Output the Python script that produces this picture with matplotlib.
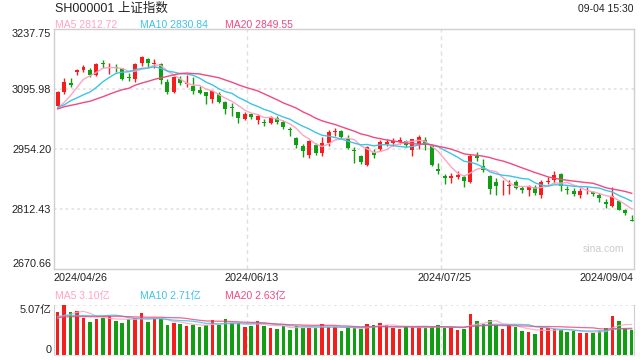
import numpy as np
import matplotlib
matplotlib.use('Agg')
import matplotlib.pyplot as plt

plt.rcParams['font.family'] = ['Liberation Sans', 'Noto Sans CJK SC']

# daily K line, SH000001, 2024/04/26 - 2024/09/04 (90 trading days)
opens = [3055, 3090, 3110, 3136, 3141, 3142, 3128, 3157, 3145, 3147,
         3145, 3125, 3120, 3157, 3166, 3156, 3155, 3112, 3090, 3120,
         3107, 3104, 3093, 3088, 3072, 3085, 3066, 3052, 3041, 3026,
         3036, 3022, 3018, 3016, 3028, 3017, 3001, 2981, 2962, 2941,
         2964, 2945, 2968, 2994, 2996, 2978, 2953, 2938, 2916, 2946,
         2955, 2967, 2968, 2971, 2973, 2953, 2966, 2976, 2961, 2908,
         2890, 2886, 2888, 2887, 2876, 2937, 2913, 2891, 2877, 2868,
         2866, 2877, 2861, 2858, 2865, 2846, 2876, 2880, 2895, 2860,
         2855, 2846, 2854, 2853, 2846, 2830, 2820, 2831, 2810, 2786]
highs = [3092, 3123, 3121, 3144, 3153, 3145, 3158, 3164, 3157, 3156,
         3146, 3133, 3158, 3174.27, 3170, 3167, 3157, 3120, 3126, 3127,
         3129, 3124, 3102, 3090, 3093, 3088, 3068, 3062, 3042, 3042,
         3040, 3036, 3025, 3032, 3031, 3023, 3007, 2983, 2966, 2975,
         2968, 2982, 2998, 3005, 3000, 2988, 2960, 2940, 2962, 2955,
         2975, 2978, 2980, 2982, 2976, 2979, 2988, 2983, 2963, 2920,
         2895, 2897, 2903, 2892, 2942, 2946, 2930, 2893, 2885, 2882,
         2881, 2880, 2866, 2870, 2868, 2880, 2888, 2903, 2897, 2867,
         2862, 2862, 2864, 2856, 2851, 2836, 2865, 2833, 2812, 2799]
lows = [3052, 3083, 3100, 3128, 3137, 3124, 3126, 3146, 3132, 3135,
        3118, 3115, 3112, 3150, 3148, 3146, 3107, 3085, 3087, 3106,
        3100, 3085, 3083, 3060, 3062, 3062, 3038, 3031, 3016, 3022,
        3024, 3013, 3009, 3014, 3013, 3001, 2985, 2957, 2935, 2933,
        2940, 2937, 2962, 2985, 2978, 2955, 2920, 2918, 2913, 2933,
        2950, 2962, 2962, 2966, 2958, 2937, 2955, 2952, 2913, 2896,
        2872, 2873, 2884, 2864, 2874, 2925, 2900, 2848, 2845, 2846,
        2849, 2860, 2850, 2843, 2846, 2838, 2871, 2874, 2854, 2848,
        2844, 2838, 2849, 2843, 2829, 2814, 2818, 2810, 2799, 2783]
closes = [3088.64, 3113.04, 3104.82, 3140.72, 3147.74, 3128.48, 3154.32, 3154.55, 3148.02, 3145.77,
          3119.90, 3122.40, 3154.03, 3171.15, 3157.97, 3158.54, 3116.39, 3088.87, 3124.04, 3109.57,
          3111.02, 3091.20, 3086.81, 3078.49, 3091.20, 3065.40, 3048.79, 3051.28, 3028.05, 3037.47,
          3028.92, 3032.63, 3015.89, 3030.25, 3018.05, 3005.44, 2998.14, 2963.10, 2950.00, 2972.53,
          2945.85, 2967.40, 2994.73, 2997.01, 2982.38, 2957.57, 2949.93, 2922.45, 2959.37, 2939.36,
          2970.39, 2971.30, 2974.01, 2976.30, 2962.85, 2977.13, 2982.31, 2964.22, 2915.37, 2901.95,
          2886.43, 2890.90, 2891.85, 2879.30, 2938.75, 2932.39, 2905.34, 2860.70, 2867.28, 2869.90,
          2869.83, 2862.19, 2858.20, 2867.95, 2850.65, 2877.36, 2879.43, 2893.67, 2866.66, 2856.58,
          2848.77, 2854.37, 2855.52, 2848.73, 2837.43, 2823.11, 2842.21, 2811.04, 2802.98, 2784.28]
# volume, 亿
vols = [4.39, 5.07, 4.39, 4.50, 3.79, 3.38, 3.68, 3.79, 3.95, 3.48,
        3.28, 3.62, 3.72, 4.29, 3.38, 3.62, 3.62, 3.08, 3.28, 3.14,
        2.97, 3.08, 2.81, 3.08, 3.55, 3.01, 3.68, 3.21, 3.21, 2.87,
        2.97, 3.48, 2.97, 2.77, 2.67, 2.94, 2.57, 2.94, 2.77, 2.77,
        2.77, 3.14, 2.87, 2.87, 2.47, 2.81, 2.74, 2.67, 3.14, 3.04,
        3.24, 3.04, 2.77, 2.64, 2.87, 2.81, 2.81, 2.77, 2.84, 3.04,
        2.77, 2.81, 2.57, 2.64, 4.16, 3.45, 3.18, 3.55, 3.04, 2.64,
        3.01, 2.84, 2.47, 2.37, 2.13, 2.77, 2.70, 2.60, 2.54, 2.37,
        2.45, 2.24, 2.24, 2.28, 2.45, 2.72, 4.00, 3.48, 2.72, 2.58]
# 19 sessions before 04/26, only used to warm up the moving averages
prev_closes = [3010.66, 3041.17, 3077.38, 3074.96, 3069.30, 3047.05, 3048.54, 3027.34, 3034.25, 3019.47,
               3057.38, 3007.07, 3071.38, 3074.22, 3065.26, 3044.60, 3021.98, 3044.82, 3052.90]
prev_vols = [3.6, 4.0, 4.1, 3.8, 3.6, 3.7, 3.4, 3.6, 3.3, 3.5,
             4.2, 4.3, 4.4, 3.9, 3.6, 3.7, 3.8, 3.5, 3.3]

date_idx = [0, 30, 60, 89]
date_labels = ['2024/04/26', '2024/06/13', '2024/07/25', '2024/09/04']
y_lo, y_hi = 2670.66, 3237.75
ma_text = ['MA5 2812.72', 'MA10 2830.84', 'MA20 2849.55']
vma_text = ['MA5 3.10亿', 'MA10 2.71亿', 'MA20 2.63亿']

RED = '#f41f1c'
GREEN = '#129e12'
MA_COL = ['#ffa4c4', '#3ec4e6', '#f04a80']
GRID = '#e0e0e0'
EDGE = '#cfcfcf'


def moving_avg(vals, prev, n):
    a = np.array(prev + vals, dtype=float)
    k = len(prev)
    return np.array([a[i - n + 1:i + 1].mean() for i in range(k, len(a))])


n = len(closes)
x = np.arange(n)
o = np.array(opens, dtype=float)
c = np.array(closes)
colors = [RED if c[i] >= o[i] else GREEN for i in range(n)]

fig = plt.figure(figsize=(6.4, 3.6), dpi=100)
ax = fig.add_axes([54 / 640, 1 - 269 / 360, 580 / 640, 240 / 360])
axv = fig.add_axes([54 / 640, 1 - 355 / 360, 580 / 640, 50 / 360])

xl = (-0.574, n - 1 + 0.357)

# ---- price panel
for v in np.linspace(y_lo, y_hi, 5)[1:-1]:
    ax.axhline(v, color=GRID, lw=1.2, ls=(0, (1.5, 2)), zorder=0)
for f in (1 / 3, 2 / 3):
    ax.axvline(xl[0] + (xl[1] - xl[0]) * f, color=GRID, lw=1, ls=(0, (3, 2.5)), zorder=0)

ax.vlines(x, lows, highs, colors=colors, lw=1, zorder=2)
body = np.maximum(np.abs(c - o), 1.3)
ax.bar(x, body, bottom=np.minimum(o, c), width=0.62, color=colors, zorder=3)

for per, col in zip([5, 10, 20], MA_COL):
    ax.plot(x, moving_avg(closes, prev_closes, per), color=col, lw=1.0, zorder=4)

ax.set_xlim(xl)
ax.set_ylim(y_lo, y_hi)
ax.set_xticks([])
ax.set_yticks(np.linspace(y_lo, y_hi, 5))
ax.set_yticklabels(['%.2f' % v for v in np.linspace(y_lo, y_hi, 5)], fontsize=7.8, color='#222222')
ax.tick_params(axis='y', length=0, pad=2)
lbls = ax.get_yticklabels()
lbls[0].set_va('bottom')
lbls[-1].set_va('top')
for s in ax.spines.values():
    s.set_color(EDGE)
    s.set_linewidth(1)

for i, lab in zip(date_idx, date_labels):
    pos = (i - xl[0]) / (xl[1] - xl[0])
    ha = 'center'
    if i == 0:
        pos, ha = 0.0, 'left'
    elif i == n - 1:
        pos, ha = 1.0, 'right'
    ax.text(pos, -9 / 240, lab, transform=ax.transAxes, ha=ha, va='center',
            fontsize=7.8, color='#222222')

fig.text(603 / 640, 1 - 249 / 360, 'sina.com', ha='center', va='center',
         fontsize=7.5, color='#cccccc')

# ---- volume panel
axv.axhline(max(vols), color=GRID, lw=1.2, ls=(0, (1.5, 2)), zorder=0)
for f in (1 / 3, 2 / 3):
    axv.axvline(xl[0] + (xl[1] - xl[0]) * f, color=GRID, lw=1, ls=(0, (3, 2.5)), zorder=0)
axv.bar(x, vols, width=0.55, color=colors, zorder=2)
for per, col in zip([5, 10, 20], MA_COL):
    axv.plot(x, moving_avg(vols, prev_vols, per), color=col, lw=0.9, alpha=0.85, zorder=3)
axv.set_xlim(xl)
axv.set_ylim(0, max(vols))
axv.set_xticks([])
axv.set_yticks([0, max(vols)])
axv.set_yticklabels(['0', '%.2f亿' % max(vols)], fontsize=7.8, color='#222222')
axv.tick_params(axis='y', length=0, pad=2)
vl = axv.get_yticklabels()
vl[0].set_va('bottom')
vl[1].set_va('top')
axv.spines['top'].set_visible(False)
axv.spines['bottom'].set_color(GRID)
axv.spines['bottom'].set_linestyle((0, (1.5, 2)))
for s in ('left', 'right'):
    axv.spines[s].set_color(EDGE)

# ---- header texts
fig.text(55 / 640, 1 - 12 / 360, 'SH000001 上证指数', fontsize=9, color='#222222', va='baseline')
fig.text(634 / 640, 1 - 12 / 360, '09-04 15:30', fontsize=7.5, color='#222222', ha='right', va='baseline')
for xp, t, col in zip([55, 140, 225], ma_text, MA_COL):
    fig.text(xp / 640, 1 - 28 / 360, t, fontsize=7.5, color=col, va='baseline')
for xp, t, col in zip([55, 140, 225], vma_text, MA_COL):
    fig.text(xp / 640, 1 - 299 / 360, t, fontsize=7.5, color=col, va='baseline')

fig.savefig('out.png', dpi=100)
